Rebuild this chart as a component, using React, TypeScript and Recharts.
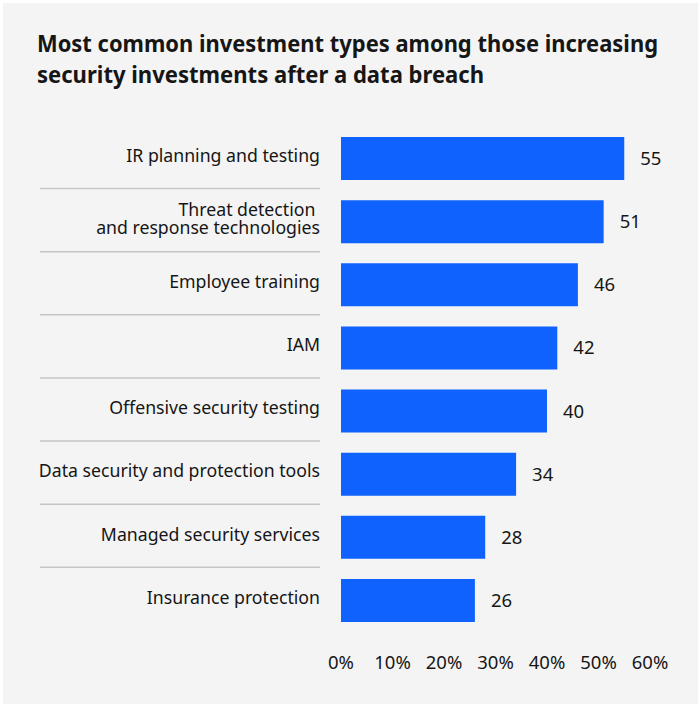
import * as React from 'react';
import { BarChart, Bar, XAxis, YAxis, LabelList } from 'recharts';

const categories = [
    'IR planning and testing',
    'Threat detection \nand response technologies',
    'Employee training',
    'IAM',
    'Offensive security testing',
    'Data security and protection tools',
    'Managed security services',
    'Insurance protection'
];
const shares = [55, 51, 46, 42, 40, 34, 28, 26];
const xTicks = [0, 10, 20, 30, 40, 50, 60];
const titleLines = [
    'Most common investment types among those increasing',
    'security investments after a data breach'
];

const FONT = '"Noto Sans", sans-serif';

const CategoryTick = (props: any) => {
    const { x, y, payload, index } = props;
    const lines = String(payload.value).split('\n');
    const lh = 18;
    const startY = y - 2 - ((lines.length - 1) * lh) / 2;
    return (
        <g>
            <text x={x} textAnchor="end" fontFamily={FONT} fontSize={17.7} fill="#161616">
                {lines.map((l: string, i: number) => (
                    <tspan key={i} x={x} y={startY + i * lh} dy="0.3em">{l}</tspan>
                ))}
            </text>
            {index < categories.length - 1 && (
                <line x1={40} x2={320} y1={y + 30} y2={y + 30} stroke="#c6c6c6" strokeWidth={1.5} />
            )}
        </g>
    );
};

class App extends React.Component<any, any> {
    public render() {
        const rows = categories.map((c, i) => ({ name: c, value: shares[i] }));
        return (
            <div style={{ position: 'absolute', left: 0, top: 0, width: 698, height: 704, background: '#fff' }}>
                <div style={{ position: 'absolute', left: 3, top: 3, width: 695, height: 701, background: '#f4f4f4' }} />
                <svg style={{ position: 'absolute', left: 0, top: 0 }} width={698} height={110}>
                    <text x={37} y={52} fontFamily={FONT} fontWeight={700} fontSize={23} fill="#161616"
                        textLength={621} lengthAdjust="spacingAndGlyphs">{titleLines[0]}</text>
                    <text x={37} y={83} fontFamily={FONT} fontWeight={700} fontSize={23} fill="#161616"
                        textLength={447} lengthAdjust="spacingAndGlyphs">{titleLines[1]}</text>
                </svg>
                <div style={{ position: 'absolute', left: 0, top: 0 }}>
                    <BarChart width={698} height={704} data={rows} layout="vertical"
                        margin={{ top: 127, right: 48, bottom: 22, left: 0 }} barSize={43}>
                        <XAxis type="number" domain={[0, 60]} ticks={xTicks} axisLine={false} tickLine={false}
                            tickSize={0} tickMargin={24} height={50} tickFormatter={(v: number) => v + '%'}
                            tick={{ fontFamily: FONT, fontSize: 18.5, fill: '#161616' }} />
                        <YAxis type="category" dataKey="name" width={341} axisLine={false} tickLine={false}
                            tickSize={0} tickMargin={21} tick={<CategoryTick />} interval={0} />
                        <Bar dataKey="value" fill="#0f62fe" isAnimationActive={false}>
                            <LabelList dataKey="value" position="right" offset={16}
                                style={{ fontFamily: FONT, fontSize: 18.5, fill: '#161616' }} />
                        </Bar>
                    </BarChart>
                </div>
            </div>
        );
    }
}

export default App;
